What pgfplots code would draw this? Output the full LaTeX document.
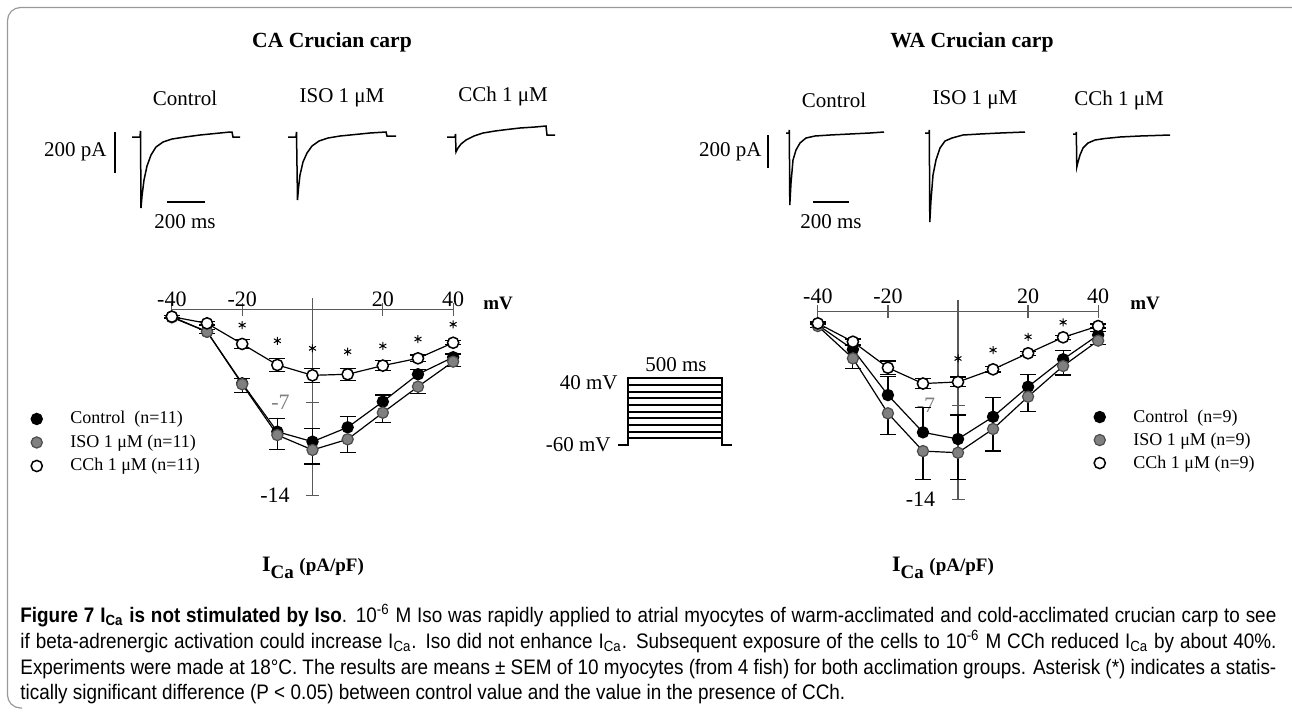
\documentclass[border=0pt]{standalone}
\usepackage{pgfplots}
\pgfplotsset{compat=1.18}
\usepackage{fontspec}
\setmainfont{Liberation Serif}
\newfontfamily\capfont{Liberation Sans}[FakeStretch=0.9]
\definecolor{isofill}{gray}{0.5}
\definecolor{isoedge}{gray}{0.3}
\definecolor{framegray}{gray}{0.6}
\newcommand\lab{\fontsize{10.5}{12}\selectfont}
\newcommand\ttl{\fontsize{10.8}{12}\selectfont\bfseries}
\newcommand\leg{\fontsize{9}{10}\selectfont}
\newcommand\capsz{\capfont\fontsize{10.5}{12}\selectfont}
\pgfplotsset{
 ivaxis/.style={scale only axis, axis lines=middle, axis line style={-, black!65, line width=0.6pt},
   clip=false, enlargelimits=false, xmin=-40, xmax=40, ymin=-14,
   xtick={-40,-20,20,40}, xticklabels={-40,-20,20,40},
   ytick={-14,-7}, yticklabels={-14,{\textcolor{black!50}{-7}}},
   tick align=center, major tick length=6.5pt,
   every tick/.style={black!65, line width=0.6pt},
   xticklabel style={anchor=south, inner sep=0pt, font=\fontsize{11}{12}\selectfont},
   yticklabel style={anchor=east, inner sep=0pt, xshift=-8pt, font=\fontsize{11}{12}\selectfont},
   legend cell align=left,
   legend image code/.code={\draw[##1] plot coordinates {(0pt,0pt)};},
 },
 ctrl/.style={black, line width=0.6pt, mark=*, mark size=2.8pt, mark options={solid, fill=black, draw=black, line width=0.6pt}},
 iso/.style={black, line width=0.6pt, mark=*, mark size=2.8pt, mark options={solid, fill=isofill, draw=isoedge, line width=0.6pt}},
 cch/.style={black, line width=0.6pt, mark=*, mark size=2.8pt, mark options={solid, fill=white, draw=black, line width=0.75pt}},
 ebar/.style={/pgfplots/error bars/y dir=#1, /pgfplots/error bars/y explicit,
   /pgfplots/error bars/error bar style={line width=0.6pt, black},
   /pgfplots/error bars/error mark options={rotate=90, mark size=4pt, line width=0.6pt, black}},
 star/.style={forget plot, only marks, mark=asterisk, mark size=2pt, mark options={line width=0.5pt, black}},
}
\begin{document}
\begin{tikzpicture}[x=0.5pt,y=-0.5pt]
\path[use as bounding box] (0,0) rectangle (1292,713);
% frame
\draw[framegray, line width=0.6pt, rounded corners=6.5pt] (1300,7.5) -- (7.5,7.5) -- (7.5,708) -- (22,708);

% ---------- canvas axis: traces, scale bars, protocol ----------
\begin{axis}[at={(0pt,0pt)}, anchor=north west, width=646pt, height=356.5pt, scale only axis,
  xmin=0, xmax=1292, ymin=0, ymax=713, y dir=reverse, hide axis, clip=false]
% left traces
\addplot[black, line width=0.75pt] coordinates {(132,137)(140,137)(140.5,131)(141,208)(142,196)(144,180)(147,166)(151,155)(156,147)(163,142)(172,139)(185,137)(200,135)(215,133.5)(230,132)(232,132)(233,137)(240,137)};
\addplot[black, line width=0.75pt] coordinates {(288,137)(296,137)(296.5,132)(297.5,200)(298.5,188)(300,175)(303,162)(307,153)(312,146)(319,141)(328,138)(340,136)(355,134.5)(370,133)(386,132)(387,136)(396,136)};
\addplot[black, line width=0.75pt] coordinates {(447,137)(455,137)(455.5,134)(456,152)(458,148)(461,144)(466,140)(474,136)(483,133)(495,131)(507,129.5)(520,128)(535,127)(546,126)(547,135)(555,135)};
% right traces
\addplot[black, line width=0.75pt] coordinates {(786,133)(789,133)(789.3,130)(789.8,205)(791,183)(793,160)(796,150)(800,143)(806,138)(815,136)(830,135)(850,134)(870,133)(884,132)};
\addplot[black, line width=0.75pt] coordinates {(925,133)(929,133)(929.3,130)(929.8,222)(931,200)(933,175)(936,160)(940,148)(945,141)(952,138)(963,135)(980,134)(1000,133)(1025,132)};
\addplot[black, line width=0.75pt] coordinates {(1073,134)(1076,134)(1076.3,132)(1076.8,167)(1078,162)(1080,155)(1083,148)(1088,143)(1095,140)(1105,138.5)(1120,137)(1140,136)(1170,135)};
% scale bars
\addplot[black, line width=0.7pt] coordinates {(115,132)(115,173)};
\addplot[black, line width=0.7pt] coordinates {(167,202)(205,202)};
\addplot[black, line width=0.7pt] coordinates {(768,135)(768,168)};
\addplot[black, line width=0.7pt] coordinates {(813,202)(849,202)};
% voltage protocol
\addplot[black, line width=0.9pt] coordinates {(618,445)(628,445)(628,378.3)(722,378.3)(722,445)(732,445)};
\addplot[black, line width=0.9pt] coordinates {(628,385)(722,385)};
\addplot[black, line width=0.9pt] coordinates {(628,391.7)(722,391.7)};
\addplot[black, line width=0.9pt] coordinates {(628,398.3)(722,398.3)};
\addplot[black, line width=0.9pt] coordinates {(628,405)(722,405)};
\addplot[black, line width=0.9pt] coordinates {(628,411.7)(722,411.7)};
\addplot[black, line width=0.9pt] coordinates {(628,418.3)(722,418.3)};
\addplot[black, line width=0.9pt] coordinates {(628,425)(722,425)};
\addplot[black, line width=0.9pt] coordinates {(628,431.7)(722,431.7)};
\addplot[black, line width=0.9pt] coordinates {(628,438.3)(722,438.3)};
\end{axis}

% ---------- left I-V (CA) ----------
\begin{axis}[ivaxis, at={(156.25pt,-154.75pt)}, anchor=origin, width=140.65pt, height=98.8pt, ymax=0.86,
  xticklabel style={yshift=4.5pt},
  legend style={at={(-0.5016,0.2692)}, anchor=west, draw=none, fill=none, inner sep=0pt, row sep=2.75pt,
    font=\leg, nodes={inner sep=0pt, text height=7pt, text depth=2pt},
    /tikz/every odd column/.style={column sep=14pt}}]
\addlegendimage{ctrl}
\addlegendentry{Control\ \ (n=11)}
\addlegendimage{iso}
\addlegendentry{ISO 1 μM (n=11)}
\addlegendimage{cch}
\addlegendentry{CCh 1 μM (n=11)}
\addplot[ctrl, forget plot, ebar=plus] coordinates {
 (-40,-0.54) +- (0,0.1) (-30,-1.67) +- (0,0.15) (-20,-5.55) +- (0,0.38) (-10,-9.19) +- (0,1.01)
 (0,-9.94) +- (0,1.01) (10,-8.86) +- (0,0.8) (20,-6.93) +- (0,0.5) (30,-4.87) +- (0,0.37) (40,-3.59) +- (0,0.24)};
\addplot[iso, forget plot, ebar=minus] coordinates {
 (-40,-0.59) +- (0,0.1) (-30,-1.67) +- (0,0.15) (-20,-5.62) +- (0,0.64) (-10,-9.44) +- (0,1.07)
 (0,-10.56) +- (0,1.06) (10,-9.76) +- (0,1.0) (20,-7.76) +- (0,0.75) (30,-5.8) +- (0,0.5) (40,-3.92) +- (0,0.38)};
\addplot[cch, forget plot, ebar=both] coordinates {
 (-40,-0.54) +- (0,0.1) (-30,-1.04) +- (0,0.12) (-20,-2.59) +- (0,0.34) (-10,-4.17) +- (0,0.5)
 (0,-4.95) +- (0,0.52) (10,-4.87) +- (0,0.46) (20,-4.22) +- (0,0.39) (30,-3.67) +- (0,0.25) (40,-2.5) +- (0,0.15)};
\addplot[star] coordinates {(-20,-1.17)(-10,-2.35)(0,-2.92)(10,-3.17)(20,-2.74)(30,-2.22)(40,-1.11)};
\end{axis}

% ---------- right I-V (WA) ----------
\begin{axis}[ivaxis, at={(479pt,-155.85pt)}, anchor=origin, width=140.15pt, height=99.65pt, ymax=0.87,
  xticklabel style={yshift=7pt},
  legend style={at={(0.9843,0.2975)}, anchor=west, draw=none, fill=none, inner sep=0pt, row sep=2.5pt,
    font=\leg, nodes={inner sep=0pt, text height=7pt, text depth=2pt},
    /tikz/every odd column/.style={column sep=14pt}}]
\addlegendimage{ctrl}
\addlegendentry{Control\ \ (n=9)}
\addlegendimage{iso}
\addlegendentry{ISO 1 μM (n=9)}
\addlegendimage{cch}
\addlegendentry{CCh 1 μM (n=9)}
\addplot[ctrl, forget plot, ebar=plus] coordinates {
 (-40,-0.99) +- (0,0.1) (-30,-2.81) +- (0,0.3) (-20,-6.22) +- (0,1.37) (-10,-9.0) +- (0,1.84)
 (0,-9.5) +- (0,1.8) (10,-7.84) +- (0,1.44) (20,-5.6) +- (0,0.94) (30,-3.55) +- (0,0.65) (40,-1.74) +- (0,0.25)};
\addplot[iso, forget plot, ebar=minus] coordinates {
 (-40,-1.07) +- (0,0.1) (-30,-3.48) +- (0,0.75) (-20,-7.58) +- (0,1.6) (-10,-10.4) +- (0,2.1)
 (0,-10.52) +- (0,2.0) (10,-8.75) +- (0,1.64) (20,-6.34) +- (0,1.1) (30,-4.05) +- (0,0.67) (40,-2.16) +- (0,0.3)};
\addplot[cch, forget plot, ebar=both] coordinates {
 (-40,-0.87) +- (0,0.1) (-30,-2.24) +- (0,0.2) (-20,-4.18) +- (0,0.5) (-10,-5.36) +- (0,0.37)
 (0,-5.24) +- (0,0.37) (10,-4.3) +- (0,0.2) (20,-3.1) +- (0,0.15) (30,-1.91) +- (0,0.15) (40,-1.07) +- (0,0.15)};
\addplot[star] coordinates {(0,-3.49)(10,-2.86)(20,-1.87)(30,-0.79)};
\end{axis}

% ---------- text ----------
\node[font=\ttl] at (332,42) {CA Crucian carp};
\node[font=\ttl] at (972,42) {WA Crucian carp};
\node[font=\lab] at (185,98) {Control};
\node[font=\lab] at (342,98) {ISO 1 μM};
\node[font=\lab] at (503,96) {CCh 1 μM};
\node[font=\lab] at (834,100) {Control};
\node[font=\lab] at (975,100) {ISO 1 μM};
\node[font=\lab] at (1119,100) {CCh 1 μM};
\node[font=\lab, anchor=east, inner sep=0pt] at (107,152) {200 pA};
\node[font=\lab, anchor=east, inner sep=0pt] at (762,152) {200 pA};
\node[font=\lab] at (185,222) {200 ms};
\node[font=\lab] at (831,222) {200 ms};
\node[font=\lab, anchor=east, inner sep=0pt] at (618,383) {40 mV};
\node[font=\lab, anchor=east, inner sep=0pt] at (611,445) {-60 mV};
\node[font=\lab] at (676,365) {500 ms};
\node[font=\fontsize{9.5}{11}\selectfont\bfseries, anchor=west, inner sep=0pt] at (483,303) {mV};
\node[font=\fontsize{9.5}{11}\selectfont\bfseries, anchor=west, inner sep=0pt] at (1130,303) {mV};
\node[font=\bfseries] at (313,568) {\fontsize{11}{12}\selectfont I\raisebox{-3.5pt}{\fontsize{9.5}{10}\selectfont Ca} \fontsize{9.5}{10}\selectfont(pA/pF)};
\node[font=\bfseries] at (943,568) {\fontsize{11}{12}\selectfont I\raisebox{-3.5pt}{\fontsize{9.5}{10}\selectfont Ca} \fontsize{9.5}{10}\selectfont(pA/pF)};

% ---------- caption ----------
\node[anchor=base west, inner sep=0pt] at (20,622) {\capsz\makebox[628pt][s]{\textbf{Figure 7 I\textsubscript{Ca} is not stimulated by Iso}. 10\textsuperscript{-6} M Iso was rapidly applied to atrial myocytes of warm-acclimated and cold-acclimated crucian carp to see}};
\node[anchor=base west, inner sep=0pt] at (20,648) {\capsz\makebox[628pt][s]{if beta-adrenergic activation could increase I\textsubscript{Ca}. Iso did not enhance I\textsubscript{Ca}. Subsequent exposure of the cells to 10\textsuperscript{-6} M CCh reduced I\textsubscript{Ca} by about 40\%.}};
\node[anchor=base west, inner sep=0pt] at (20,674) {\capsz\makebox[628pt][s]{Experiments were made at 18°C. The results are means ± SEM of 10 myocytes (from 4 fish) for both acclimation groups. Asterisk (*) indicates a statis-}};
\node[anchor=base west, inner sep=0pt] at (20,699) {\capsz tically significant difference (P < 0.05) between control value and the value in the presence of CCh.};
\end{tikzpicture}
\end{document}
